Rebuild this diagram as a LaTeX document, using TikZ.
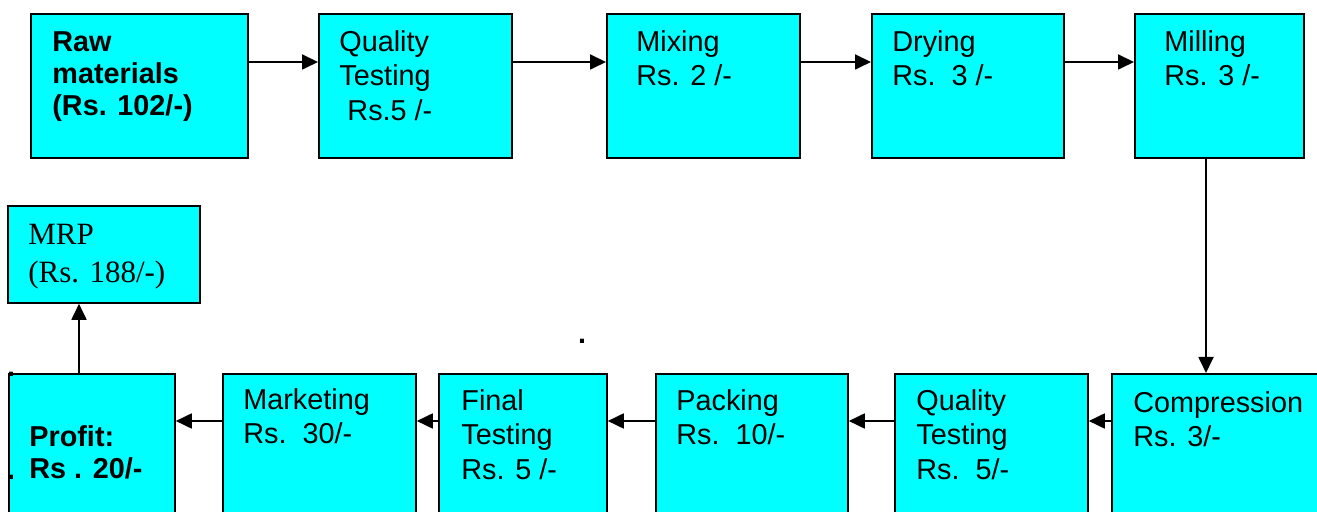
\documentclass[tikz,border=0pt]{standalone}
\usepackage{fontspec}
\setmainfont{Liberation Sans}
\newfontfamily\timesfont{Liberation Serif}
\usetikzlibrary{positioning,arrows.meta}
\definecolor{ccyan}{RGB}{0,255,255}
\tikzset{costflow/.style={x=0.5pt,y=-0.5pt},
  stepbox/.style={draw=black,line width=0.9pt,fill=ccyan,inner sep=0pt,anchor=north west},
  steptxt/.style={inner sep=0pt,align=left,font=\fontsize{14.4}{17.2}\selectfont},
  boldtxt/.style={inner sep=0pt,align=left,font=\bfseries\fontsize{14.4}{16}\selectfont},
  flowarr/.style={line width=0.9pt,-{Triangle[length=8pt,width=7.5pt]}}}

\begin{document}
\begin{tikzpicture}[costflow]
    \useasboundingbox (0,0) rectangle (1317,512);
    \fill[white] (0,0) rectangle (1317,512);
    \clip (0,0) rectangle (1317,512); % bottom row runs off the page
    % top row
    \node[stepbox,minimum width=108.5pt,minimum height=72pt] (raw) at (30,13) {};
    \node[stepbox,minimum width=96.5pt,minimum height=72pt] (qt1) at (318,13) {};
    \node[stepbox,minimum width=96.5pt,minimum height=72pt] (mix) at (606,13) {};
    \node[stepbox,minimum width=96pt,minimum height=72pt] (dry) at (871,13) {};
    \node[stepbox,minimum width=84.5pt,minimum height=72pt] (mill) at (1134,13) {};
    % MRP box
    \node[stepbox,minimum width=96pt,minimum height=48.5pt] (mrp) at (7,205) {};
    % bottom row
    \node[stepbox,minimum width=83pt,minimum height=80pt] (profit) at (8,373) {};
    \node[stepbox,minimum width=96.5pt,minimum height=80pt] (mkt) at (222,373) {};
    \node[stepbox,minimum width=84pt,minimum height=80pt] (fin) at (438,373) {};
    \node[stepbox,minimum width=96pt,minimum height=80pt] (pack) at (655,373) {};
    \node[stepbox,minimum width=96.5pt,minimum height=80pt] (qt2) at (894,373) {};
    \node[stepbox,minimum width=110pt,minimum height=80pt] (comp) at (1111,373) {};
    % texts
    \node[boldtxt,below right=9pt and 11pt of raw.north west] (rawt) {Raw\\materials\\(Rs. 102/-)};
    \node[steptxt,below right=8.5pt and 10.5pt of qt1.north west] (qt1t) {Quality\\Testing\\\hspace*{0.28em}Rs.5 /-};
    \node[steptxt,below right=8.5pt and 15pt of mix.north west] (mixt) {Mixing\\Rs. 2 /-};
    \node[steptxt,below right=8.5pt and 10.5pt of dry.north west] (dryt) {Drying\\Rs.\ \ 3 /-};
    \node[steptxt,below right=8.5pt and 15pt of mill.north west] (millt) {Milling\\Rs. 3 /-};
    \node[steptxt,below right=9pt and 11pt of comp.north west] (compt) {Compression\\Rs. 3/-};
    \node[steptxt,below right=8pt and 11pt of qt2.north west] (qt2t) {Quality\\Testing\\Rs.\ \ 5/-};
    \node[steptxt,below right=8pt and 10.5pt of pack.north west] (packt) {Packing\\Rs.\ \ 10/-};
    \node[steptxt,below right=8pt and 11.5pt of fin.north west] (fint) {Final\\Testing\\Rs. 5 /-};
    \node[steptxt,below right=7.5pt and 10.5pt of mkt.north west] (mktt) {Marketing\\Rs.\ \ 30/-};
    \node[boldtxt,below right=26pt and 10.5pt of profit.north west] (profitt) {Profit:\\Rs . 20/-};
    \node[inner sep=0pt,align=left,font=\timesfont\fontsize{15.5}{19}\selectfont,
      below right=9.5pt and 10.5pt of mrp.north west] (mrpt) {MRP\\(Rs. 188/-)};
    % stray dots
    \node[boldtxt] (dotmid) at (582,341) {.};
    \node[boldtxt] (dottop) at (11,374) {.};
    \node[boldtxt] (dotlow) at (11,477) {.};
    % arrows
    \coordinate (toprow) at (0,62);
    \coordinate (botrow) at (0,421);
    \coordinate (millcol) at (1206,0);
    \coordinate (profcol) at (79,0);
    \foreach \a/\b in {raw/qt1,qt1/mix,mix/dry,dry/mill}
      \draw[flowarr] (\a.east |- toprow) -- (\b.west |- toprow);
    \foreach \a/\b in {comp/qt2,qt2/pack,pack/fin,fin/mkt,mkt/profit}
      \draw[flowarr] (\a.west |- botrow) -- (\b.east |- botrow);
    \draw[flowarr] (mill.south -| millcol) -- (comp.north -| millcol); % down the right side
    \draw[flowarr] (profit.north -| profcol) -- (mrp.south -| profcol); % up to MRP
\end{tikzpicture}
\end{document}
